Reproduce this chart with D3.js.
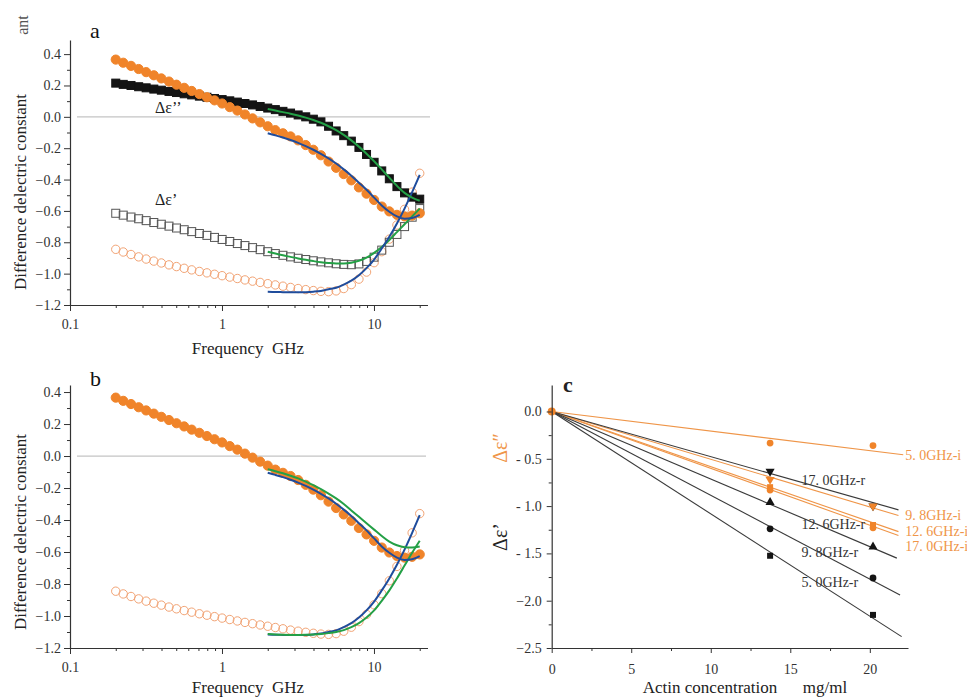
<!DOCTYPE html>
<html><head><meta charset="utf-8">
<script src="https://cdn.jsdelivr.net/npm/d3@7"></script>
<style>body{margin:0;background:#fff}svg{display:block}</style>
</head><body>
<svg id="chart" width="967" height="698"></svg>
<script>
// ---------- DATA ----------
// Frequencies (GHz) of measured points
const freq = [0.200,0.224,0.252,0.283,0.317,0.356,0.399,0.448,0.502,0.564,0.632,0.710,0.796,0.893,1.002,1.125,1.262,1.416,1.589,1.783,2.000,2.244,2.518,2.825,3.170,3.557,3.991,4.477,5.024,5.637,6.325,7.096,7.962,8.934,10.02,11.25,12.62,14.16,15.89,17.83,20.00];
// Fit frequencies (GHz)
const fitFreq = [2.000,2.244,2.518,2.825,3.170,3.557,3.991,4.477,5.024,5.637,6.325,7.096,7.962,8.934,10.02,11.25,12.62,14.16,15.89,17.83,20.00];

// Δε'' (filled orange circles)
const eppOrange = [0.365,0.345,0.325,0.305,0.285,0.265,0.245,0.225,0.205,0.185,0.165,0.145,0.125,0.105,0.085,0.062,0.040,0.015,-0.010,-0.035,-0.060,-0.085,-0.105,-0.125,-0.150,-0.180,-0.210,-0.245,-0.285,-0.325,-0.365,-0.405,-0.450,-0.490,-0.530,-0.572,-0.603,-0.625,-0.635,-0.630,-0.615];
// Δε'' (filled black squares)
const eppBlack = [0.215,0.207,0.200,0.192,0.185,0.177,0.170,0.162,0.155,0.147,0.140,0.132,0.125,0.117,0.110,0.102,0.094,0.085,0.076,0.066,0.056,0.046,0.035,0.024,0.012,0.000,-0.015,-0.032,-0.060,-0.090,-0.120,-0.155,-0.195,-0.240,-0.290,-0.345,-0.395,-0.445,-0.485,-0.512,-0.525];
// Δε' (open black squares)
const epBlack = [-0.615,-0.627,-0.639,-0.650,-0.662,-0.674,-0.685,-0.697,-0.709,-0.720,-0.732,-0.744,-0.756,-0.769,-0.782,-0.795,-0.808,-0.821,-0.834,-0.847,-0.860,-0.872,-0.883,-0.893,-0.902,-0.910,-0.918,-0.925,-0.931,-0.937,-0.941,-0.943,-0.938,-0.922,-0.895,-0.850,-0.800,-0.750,-0.700,-0.640,-0.585];
// Δε' (open orange circles)
const epOrange = [-0.845,-0.862,-0.878,-0.893,-0.907,-0.920,-0.932,-0.944,-0.955,-0.966,-0.976,-0.986,-0.995,-1.004,-1.013,-1.022,-1.031,-1.040,-1.048,-1.056,-1.064,-1.072,-1.080,-1.088,-1.095,-1.102,-1.108,-1.113,-1.115,-1.110,-1.095,-1.070,-1.035,-0.990,-0.930,-0.860,-0.780,-0.690,-0.590,-0.480,-0.360];

// Fits (panel a)
const fitGreenEppA = [0.050,0.040,0.030,0.020,0.008,-0.005,-0.020,-0.038,-0.060,-0.085,-0.115,-0.150,-0.190,-0.235,-0.283,-0.335,-0.388,-0.440,-0.485,-0.515,-0.535];
const fitBlueEpp = [-0.105,-0.118,-0.132,-0.148,-0.166,-0.187,-0.210,-0.236,-0.265,-0.298,-0.335,-0.375,-0.420,-0.465,-0.515,-0.565,-0.605,-0.635,-0.650,-0.645,-0.625];
const fitGreenEpA = [-0.860,-0.872,-0.883,-0.893,-0.903,-0.912,-0.920,-0.927,-0.932,-0.935,-0.935,-0.930,-0.918,-0.898,-0.868,-0.830,-0.785,-0.735,-0.685,-0.635,-0.585];
const fitBlueEp = [-1.115,-1.117,-1.118,-1.119,-1.119,-1.118,-1.115,-1.110,-1.100,-1.090,-1.070,-1.045,-1.010,-0.965,-0.910,-0.840,-0.765,-0.680,-0.585,-0.480,-0.370];
// Fits (panel b, green model)
const fitGreenEppB = [-0.083,-0.095,-0.108,-0.123,-0.140,-0.160,-0.182,-0.207,-0.235,-0.265,-0.300,-0.340,-0.380,-0.420,-0.460,-0.500,-0.535,-0.558,-0.570,-0.572,-0.565];
const fitGreenEpB = [-1.112,-1.115,-1.117,-1.118,-1.118,-1.117,-1.115,-1.112,-1.107,-1.100,-1.088,-1.070,-1.045,-1.010,-0.965,-0.905,-0.840,-0.765,-0.685,-0.605,-0.530];

// Axis ticks (panels a, b)
const freqMajor = [0.1, 1, 10];
const freqMinor = [0.2,0.3,0.4,0.5,0.6,0.7,0.8,0.9,2,3,4,5,6,7,8,9,20];
const diffMajor = [-1.2,-1.0,-0.8,-0.6,-0.4,-0.2,0.0,0.2,0.4];
const diffMinor = [-1.1,-0.9,-0.7,-0.5,-0.3,-0.1,0.1,0.3];

// Panel c
const conc = [0, 13.73, 20.2];
const seriesC = ["5. 0GHz-i","9. 8GHz-i","12. 6GHz-i","17. 0GHz-i","17. 0GHz-r","12. 6GHz-r","9. 8GHz-r","5. 0GHz-r"];
const kindC   = ["i","i","i","i","r","r","r","r"];
const valuesC = [
  [0,-0.334,-0.360],
  [0,-0.720,-1.000],
  [0,-0.800,-1.200],
  [0,-0.830,-1.230],
  [0,-0.634,-1.000],
  [0,-0.960,-1.430],
  [0,-1.240,-1.760],
  [0,-1.525,-2.150]
];
const fitEndX = [22.1,21.8,21.8,21.8,21.8,21.7,21.9,22.0];
const fitEndY = [-0.458,-1.100,-1.270,-1.310,-1.040,-1.550,-1.940,-2.380];
const labelX  = [22.1,22.1,22.1,22.1,15.7,15.7,15.7,15.7];
const labelY  = [-0.458,-1.100,-1.260,-1.420,-0.720,-1.190,-1.490,-1.800];
const concTicks = [0,5,10,15,20];
const concMinor = [2.5,7.5,12.5,17.5];
const deltaTicks = [0,-0.5,-1.0,-1.5,-2.0,-2.5];
const deltaLabels = ["0.0","- 0.5","- 1.0","- 1.5","\u22122.0","\u22122.5"];
const deltaMinor = [-0.25,-0.75,-1.25,-1.75,-2.25];

// ---------- STYLE ----------
const FONT = "'Liberation Serif','DejaVu Serif',serif";
const ORANGE = "#f0842a", ORANGE_OPEN = "#f2a374", BLUE = "#1f4c9c", GREEN = "#24a046", BLACK = "#141414", AXIS = "#333";
const ORANGE_C = "#ef9548", GREY_C = "#3a3a3a";

const svg = d3.select("#chart");

function freqAxis(g, x) {
  const ax = d3.axisBottom(x).tickValues(freqMajor.concat(freqMinor))
    .tickFormat(d => freqMajor.includes(d) ? String(d) : "")
    .tickSizeOuter(0).tickPadding(8);
  g.call(ax);
  g.selectAll(".tick line").attr("y2", d => freqMajor.includes(d) ? 6 : 3);
  styleAxis(g);
}
function diffAxis(g, y) {
  const ax = d3.axisLeft(y).tickValues(diffMajor.concat(diffMinor))
    .tickFormat(d => diffMajor.some(m => Math.abs(m - d) < 1e-9) ? d3.format(".1f")(d) : "")
    .tickSizeOuter(0).tickPadding(3);
  g.call(ax);
  g.selectAll(".tick line").attr("x2", d => diffMajor.some(m => Math.abs(m - d) < 1e-9) ? -6 : -3);
  styleAxis(g);
}
function styleAxis(g) {
  g.select(".domain").attr("stroke", AXIS).attr("stroke-width", 1.2);
  g.selectAll(".tick line").attr("stroke", AXIS).attr("stroke-width", 1);
  g.selectAll(".tick text").attr("font-family", FONT).attr("font-size", 14).attr("fill", "#333");
}

function freqPanel(cfg) {
  const x = d3.scaleLog().domain([0.1, 22.5]).range([70, 427.5]);
  const y = d3.scaleLinear().domain(cfg.yDomain).range(cfg.yRange);
  const g = svg.append("g");
  g.append("line").attr("x1", 77).attr("x2", cfg.zeroEnd).attr("y1", y(0)).attr("y2", y(0))
    .attr("stroke", "#c4c4c4").attr("stroke-width", 1.2);

  const pts = arr => arr.map((v, i) => [freq[i], v]);
  const line = d3.line().x(d => x(d[0])).y(d => y(d[1])).curve(d3.curveMonotoneX);

  cfg.series.forEach(s => {
    const data = pts(s.values);
    if (s.type === "fsquare" || s.type === "osquare") {
      g.append("g").selectAll("rect").data(data).join("rect")
        .attr("x", d => x(d[0]) - 4).attr("y", d => y(d[1]) - 4)
        .attr("width", 8).attr("height", 8)
        .attr("fill", s.type === "fsquare" ? BLACK : "none")
        .attr("stroke", s.type === "fsquare" ? BLACK : "#555").attr("stroke-width", 1);
    } else {
      g.append("g").selectAll("circle").data(data).join("circle")
        .attr("cx", d => x(d[0])).attr("cy", d => y(d[1])).attr("r", s.type === "fcircle" ? 4.6 : 4.2)
        .attr("fill", s.type === "fcircle" ? ORANGE : "none")
        .attr("stroke", s.type === "fcircle" ? ORANGE : ORANGE_OPEN).attr("stroke-width", 1);
    }
  });
  cfg.fits.forEach(f => {
    g.append("path").datum(fitFreq.map((fq, i) => [fq, f.values[i]]))
      .attr("d", line).attr("fill", "none").attr("stroke", f.color).attr("stroke-width", 2);
  });

  freqAxis(g.append("g").attr("transform", `translate(0,${cfg.yRange[0]})`), x);
  diffAxis(g.append("g").attr("transform", "translate(70,0)"), y);

  g.append("text").attr("x", 248).attr("y", cfg.xTitleY).attr("text-anchor", "middle")
    .attr("font-family", FONT).attr("font-size", 17).attr("fill", "#222")
    .style("white-space", "pre").text("Frequency  GHz");
  g.append("text").attr("transform", `translate(26,${cfg.yTitleC}) rotate(-90)`).attr("text-anchor", "middle")
    .attr("font-family", FONT).attr("font-size", 17).attr("fill", "#222")
    .text("Difference delectric constant");
  g.append("text").attr("x", 90).attr("y", cfg.letterY).attr("font-family", FONT).attr("font-size", 22)
    .attr("fill", "#111").text(cfg.letter);
  return {x, y, g};
}

// Panel a
const A = freqPanel({
  yDomain: [-1.2, 0.49], yRange: [305, 40], zeroEnd: 430, xTitleY: 354, yTitleC: 192, letter: "a", letterY: 38,
  series: [
    {type: "ocircle", values: epOrange},
    {type: "osquare", values: epBlack},
    {type: "fsquare", values: eppBlack},
    {type: "fcircle", values: eppOrange}
  ],
  fits: [
    {color: GREEN, values: fitGreenEpA},
    {color: BLUE, values: fitBlueEp},
    {color: GREEN, values: fitGreenEppA},
    {color: BLUE, values: fitBlueEpp}
  ]
});
A.g.append("text").attr("x", 155).attr("y", 113).attr("font-family", FONT).attr("font-size", 16).attr("fill", "#222").text("\u0394\u03b5\u2019\u2019");
A.g.append("text").attr("x", 155).attr("y", 205).attr("font-family", FONT).attr("font-size", 16).attr("fill", "#222").text("\u0394\u03b5\u2019");
svg.append("text").attr("transform", "translate(28,25) rotate(-90)").attr("text-anchor", "middle")
  .attr("font-family", FONT).attr("font-size", 16).attr("fill", "#555").text("ant");

// Panel b
freqPanel({
  yDomain: [-1.2, 0.444], yRange: [648, 385], zeroEnd: 426, xTitleY: 693, yTitleC: 532, letter: "b", letterY: 386,
  series: [
    {type: "ocircle", values: epOrange},
    {type: "fcircle", values: eppOrange}
  ],
  fits: [
    {color: BLUE, values: fitBlueEp},
    {color: GREEN, values: fitGreenEpB},
    {color: BLUE, values: fitBlueEpp},
    {color: GREEN, values: fitGreenEppB}
  ]
});

// Panel c
(function () {
  const x = d3.scaleLinear().domain([0, 22.4]).range([551.7, 908]);
  const y = d3.scaleLinear().domain([-2.5, 0.28]).range([648, 385]);
  const g = svg.append("g");
  const symR = [d3.symbolCircle, d3.symbolTriangle, d3.symbolSquare, d3.symbolCircle];
  const symB = [d3.symbolTriangle, d3.symbolTriangle, d3.symbolCircle, d3.symbolSquare];
  const rotB = [180, 0, 0, 0];
  const rotR = [0, 180, 0, 0];

  seriesC.forEach((name, i) => {
    const isI = kindC[i] === "i";
    g.append("line").attr("x1", x(0)).attr("y1", y(0)).attr("x2", x(fitEndX[i])).attr("y2", y(fitEndY[i]))
      .attr("stroke", isI ? ORANGE_C : GREY_C).attr("stroke-width", 1.1);
  });
  // markers: black (r) first, orange (i) on top
  const order = [4, 5, 6, 7, 0, 1, 2, 3];
  order.forEach(i => {
    const isI = kindC[i] === "i";
    const j = isI ? i : i - 4;
    const sym = d3.symbol().type(isI ? symR[j] : symB[j]).size(36);
    const rot = isI ? rotR[j] : rotB[j];
    g.append("g").selectAll("path").data(conc.map((c, k) => [c, valuesC[i][k]]).slice(1)).join("path")
      .attr("d", sym).attr("transform", d => `translate(${x(d[0])},${y(d[1])}) rotate(${rot})`)
      .attr("fill", isI ? ORANGE : BLACK);
  });
  g.append("circle").attr("cx", x(conc[0])).attr("cy", y(valuesC[0][0])).attr("r", 4).attr("fill", ORANGE);

  seriesC.forEach((name, i) => {
    const isI = kindC[i] === "i";
    g.append("text").attr("x", x(labelX[i]) + (isI ? 2 : 0)).attr("y", y(labelY[i])).attr("dy", "0.35em")
      .attr("font-family", FONT).attr("font-size", 14).attr("fill", isI ? ORANGE_C : "#333")
      .style("white-space", "pre").text(name);
  });

  const gx = g.append("g").attr("transform", "translate(0,648)");
  gx.call(d3.axisBottom(x).tickValues(concTicks.concat(concMinor)).tickFormat(d => concTicks.includes(d) ? d : "").tickSizeOuter(0).tickPadding(10));
  gx.selectAll(".tick line").attr("y2", d => concTicks.includes(d) ? 5 : 3);
  styleAxis(gx);
  const gy = g.append("g").attr("transform", "translate(551.7,0)");
  gy.call(d3.axisLeft(y).tickValues(deltaTicks.concat(deltaMinor))
    .tickFormat(d => { const k = deltaTicks.indexOf(d); return k >= 0 ? deltaLabels[k] : ""; })
    .tickSizeOuter(0).tickPadding(4));
  gy.selectAll(".tick line").attr("x2", d => deltaTicks.includes(d) ? -5 : -3);
  styleAxis(gy);
  gy.selectAll(".tick text").style("white-space", "pre");

  g.append("text").attr("x", 745).attr("y", 693).attr("text-anchor", "middle").attr("font-family", FONT)
    .attr("font-size", 17).attr("fill", "#222").style("white-space", "pre").text("Actin concentration      mg/ml");
  g.append("text").attr("transform", "translate(507,448) rotate(-90)").attr("text-anchor", "middle")
    .attr("font-family", FONT).attr("font-size", 20).attr("fill", ORANGE_C).text("\u0394\u03b5\u2033");
  g.append("text").attr("transform", "translate(507,537) rotate(-90)").attr("text-anchor", "middle")
    .attr("font-family", FONT).attr("font-size", 20).attr("fill", "#222").text("\u0394\u03b5\u2019");
  g.append("text").attr("x", 563).attr("y", 392).attr("font-family", FONT).attr("font-size", 22)
    .attr("font-weight", "bold").attr("fill", "#222").text("c");
})();
</script>
</body></html>
